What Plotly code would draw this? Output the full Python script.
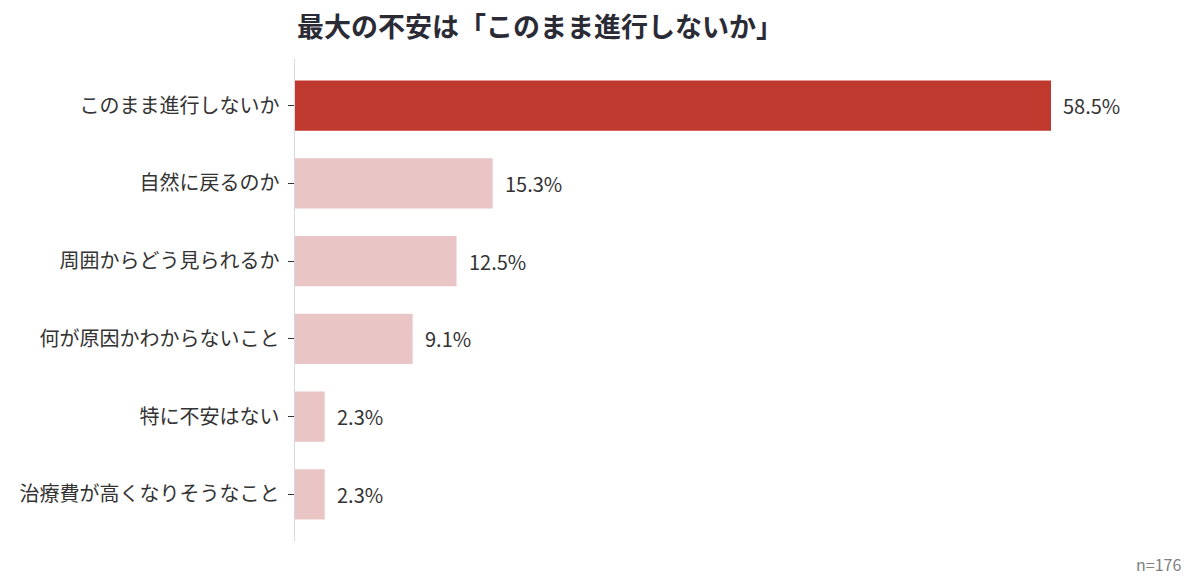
import plotly.graph_objects as go

categories = ["このまま進行しないか", "自然に戻るのか", "周囲からどう見られるか",
              "何が原因かわからないこと", "特に不安はない", "治療費が高くなりそうなこと"]
values = [58.5, 15.3, 12.5, 9.1, 2.3, 2.3]
labels = [f"{v:.1f}%" for v in values]
colors = ["#C0392F"] + ["#E9C5C5"] * 5

fig = go.Figure(go.Bar(
    x=values, y=categories, orientation="h",
    marker=dict(color=colors, line=dict(width=0)),
    width=0.645,
))

for c, v, t in zip(categories, values, labels):
    fig.add_annotation(x=v, y=c, text=t, xanchor="left", yanchor="middle",
                       xshift=10, showarrow=False,
                       font=dict(size=20, color="#333333", family="Noto Sans CJK JP"))

fig.update_layout(
    width=1200, height=588,
    margin=dict(l=295, r=65, t=59, b=47),
    paper_bgcolor="white", plot_bgcolor="white",
    font=dict(family="Noto Sans CJK JP", color="#333333"),
    showlegend=False,
    title=dict(text="<b>最大の不安は「このまま進行しないか」</b>",
               x=297/1200, xanchor="left", y=1-28/588, yanchor="middle",
               font=dict(size=27, color="#2b2b36", family="Noto Sans CJK JP")),
    xaxis=dict(range=[0, 65], visible=False, fixedrange=True),
    yaxis=dict(range=[5.6, -0.6], showgrid=False, zeroline=False,
               showline=True, linecolor="#dcd6de", linewidth=1,
               ticks="outside", ticklen=6, tickcolor="#333333", tickwidth=1,
               tickfont=dict(size=20, color="#333333"), ticksuffix=" "),
)
fig.add_annotation(text="n=176", x=1, xref="paper", xanchor="right",
                   y=-0.0477, yref="paper", yanchor="middle", xshift=48,
                   showarrow=False, font=dict(size=16, color="#808080"))

fig.write_html("out.html")
